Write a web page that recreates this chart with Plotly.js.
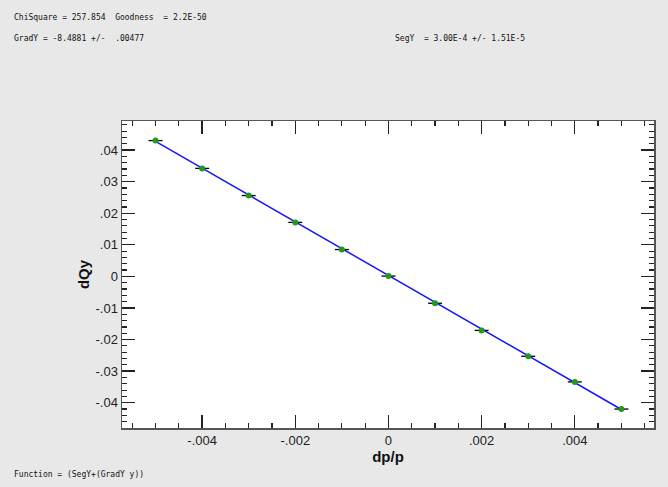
<!DOCTYPE html>
<html>
<head>
<meta charset="utf-8">
<script src="https://cdn.plot.ly/plotly-3.0.1.min.js"></script>
<style>
  html, body { margin: 0; padding: 0; background: #e8e8e8; }
  #chart { width: 668px; height: 487px; }
</style>
</head>
<body>
<div id="chart"></div>
<script>
// Measured tune shift vs momentum offset
const dpp = [-0.005, -0.004, -0.003, -0.002, -0.001, 0.0, 0.001, 0.002, 0.003, 0.004, 0.005];
const dQy = [0.0430, 0.0342, 0.0256, 0.0171, 0.0085, 0.0001, -0.0085, -0.0171, -0.0253, -0.0334, -0.0420];
const dppErr = [0.00015, 0.00015, 0.00015, 0.00015, 0.00015, 0.00015, 0.00015, 0.00015, 0.00015, 0.00015, 0.00015];

// Fit parameters: dQy = SegY + GradY * dp/p
const gradY = -8.4881;
const segY = 3.00e-4;
const fitX = [-0.005, 0.005];

// Axis tick labels
const xTickVals = [-0.004, -0.002, 0, 0.002, 0.004];
const xTickText = ['-.004', '-.002', '0', '.002', '.004'];
const yTickVals = [0.04, 0.03, 0.02, 0.01, 0, -0.01, -0.02, -0.03, -0.04];
const yTickText = ['.04', '.03', '.02', '.01', '0', '-.01', '-.02', '-.03', '-.04'];

const fitY = fitX.map(x => segY + gradY * x);

const traces = [
  {
    x: fitX, y: fitY, type: 'scatter', mode: 'lines',
    line: { color: '#1515ff', width: 1.5 },
    hoverinfo: 'skip'
  },
  {
    x: dpp, y: dQy, type: 'scatter', mode: 'markers',
    marker: { color: '#1f9a1f', size: 6 },
    error_x: { type: 'data', array: dppErr, visible: true, color: '#000', thickness: 1.3, width: 0 }
  }
];

const mono = 'DejaVu Sans Mono, monospace';
const nb = '\u00A0';

const axisCommon = {
  showgrid: false, zeroline: false,
  showline: true, linecolor: '#555', linewidth: 1.5, mirror: 'allticks',
  ticks: 'inside', ticklen: 13, tickwidth: 1.3, tickcolor: '#222',
  tickmode: 'array',
  tickfont: { family: 'Liberation Sans, Arial, sans-serif', size: 13, color: '#222' }
};

const layout = {
  width: 668, height: 487,
  paper_bgcolor: '#e8e8e8', plot_bgcolor: '#ffffff',
  showlegend: false,
  margin: { l: 122, r: 14, t: 121, b: 59 },
  xaxis: Object.assign({}, axisCommon, {
    range: [-0.00572, 0.0057],
    tickvals: xTickVals, ticktext: xTickText,
    minor: { tickmode: 'linear', tick0: 0, dtick: 0.0005, ticks: 'inside', ticklen: 5, tickwidth: 1.2, tickcolor: '#222' },
    title: { text: '<b>dp/p</b>', font: { family: 'Liberation Sans, Arial, sans-serif', size: 15, color: '#111' }, standoff: 2 }
  }),
  yaxis: Object.assign({}, axisCommon, {
    range: [-0.048, 0.0492],
    tickvals: yTickVals, ticktext: yTickText,
    minor: { tickmode: 'linear', tick0: 0, dtick: 0.002, ticks: 'inside', ticklen: 5, tickwidth: 1.2, tickcolor: '#222' },
    title: { text: '<b>dQy</b>', font: { family: 'Liberation Sans, Arial, sans-serif', size: 15, color: '#111' }, standoff: 2 }
  }),
  annotations: []
};

// Header and footer notes, placed in page pixels
const notes = [
  { text: 'ChiSquare = 257.854' + nb + nb + 'Goodness' + nb + nb + '= 2.2E-50', px: 12, py: 17 },
  { text: 'GradY = -8.4881 +/-' + nb + nb + '.00477', px: 12, py: 39 },
  { text: 'SegY' + nb + nb + '= 3.00E-4 +/- 1.51E-5', px: 393, py: 39 },
  { text: 'Function = (SegY+(GradY y))', px: 12, py: 474 }
];
const plotL = 122, plotW = 668 - 122 - 14, plotT = 121, plotH = 487 - 121 - 59;
layout.annotations = notes.map(n => ({
  text: n.text, xref: 'paper', yref: 'paper',
  x: (n.px - plotL) / plotW,
  y: 1 - (n.py - plotT) / plotH,
  showarrow: false, xanchor: 'left', yanchor: 'middle',
  font: { family: mono, size: 8, color: '#111' }
}));

Plotly.newPlot('chart', traces, layout, { displayModeBar: false, staticPlot: true });
</script>
</body>
</html>
